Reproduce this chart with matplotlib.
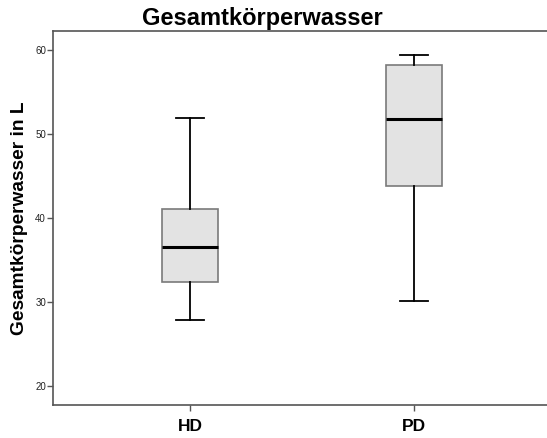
import matplotlib
matplotlib.use("Agg")
import matplotlib.pyplot as plt

plt.rcParams['font.family'] = ['Liberation Sans', 'DejaVu Sans']

# Boxplot statistics per group (L)
groups = ["HD", "PD"]
whisker_low = [27.9, 30.1]
q1 = [32.4, 43.8]
median = [36.6, 51.8]
q3 = [41.1, 58.2]
whisker_high = [51.9, 59.4]
yticks = [20, 30, 40, 50, 60]

stats = []
for i, g in enumerate(groups):
    stats.append({"label": g, "whislo": whisker_low[i], "q1": q1[i], "med": median[i],
                  "q3": q3[i], "whishi": whisker_high[i], "fliers": []})

fig = plt.figure(figsize=(5.47, 4.38), dpi=100)
ax = fig.add_axes([53/547, (438-405)/438, 1 - 53/547, (405-31)/438])

ax.bxp(stats, positions=[1, 2], widths=0.25, patch_artist=True, showfliers=False,
       boxprops=dict(facecolor="#e3e3e3", edgecolor="#7a7a7a", linewidth=1.2),
       medianprops=dict(color="black", linewidth=2.2),
       whiskerprops=dict(color="black", linewidth=1.3),
       capprops=dict(color="black", linewidth=1.3),
       capwidths=0.125)

ax.set_xlim(0.388, 2.594)
ax.set_ylim(17.74, 62.26)
ax.set_yticks(yticks)
ax.set_yticklabels([str(t) for t in yticks], fontsize=7, color="#222222")
ax.set_xticks([1, 2])
ax.set_xticklabels(groups, fontsize=12.5, fontweight="bold")
ax.tick_params(axis="y", length=4, width=1, color="#555555", pad=1)
ax.tick_params(axis="x", length=4, width=1, color="#555555", pad=6)

for side in ["left", "bottom", "top"]:
    ax.spines[side].set_color("#555555")
    ax.spines[side].set_linewidth(1.2)
ax.spines["right"].set_visible(False)

ax.set_ylabel("Gesamtkörperwasser in L", fontsize=13.8, fontweight="bold", labelpad=5)
fig.text(262/547, 1 - 18.5/438, "Gesamtkörperwasser", fontsize=17, fontweight="bold",
         ha="center", va="center")

fig.savefig("out.png", dpi=100)
